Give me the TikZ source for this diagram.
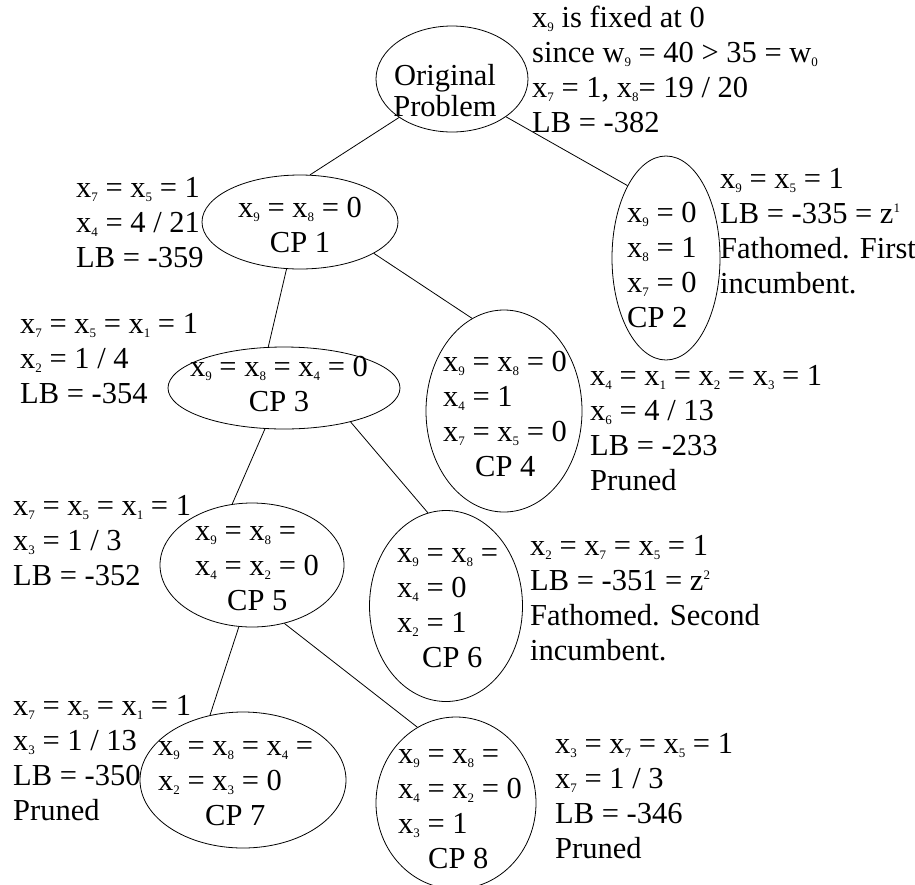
\documentclass[tikz,border=0pt]{standalone}
\usepackage{fontspec}
\setmainfont{Liberation Serif}
\usetikzlibrary{shapes.geometric}
\newcommand\lowidx[1]{\raisebox{-4pt}{\fontsize{13}{13}\selectfont #1}}
\newcommand\hiidx[1]{\raisebox{11pt}{\fontsize{13}{13}\selectfont #1}}
\tikzset{
  cp/.style   = {ellipse, draw, line width=0.8pt, inner sep=0pt},
  note/.style = {anchor=north west, align=left, inner sep=0pt, yshift=24.5pt},
  mid/.style  = {anchor=north, align=center, inner sep=0pt, yshift=24.5pt},
  link/.style = {line width=0.8pt},
}
\begin{document}
\begin{tikzpicture}[x=1pt, y=-1pt, font=\fontsize{30.5}{35}\selectfont]
  \useasboundingbox (0,0) rectangle (915,884);
  % subproblems
  \node[cp, minimum width=152pt, minimum height=106pt] (orig) at (452,79)  {};
  \node[cp, minimum width=196pt, minimum height=94pt]  (cp1)  at (300,222) {};
  \node[cp, minimum width=108pt, minimum height=204pt] (cp2)  at (666,258) {};
  \node[cp, minimum width=232pt, minimum height=82pt]  (cp3)  at (284,388) {};
  \node[cp, minimum width=156pt, minimum height=202pt] (cp4)  at (504,411) {};
  \node[cp, minimum width=184pt, minimum height=124pt] (cp5)  at (252,565) {};
  \node[cp, minimum width=153pt, minimum height=191pt] (cp6)  at (446,606) {};
  \node[cp, minimum width=206pt, minimum height=136pt] (cp7)  at (243,780) {};
  \node[cp, minimum width=160pt, minimum height=172pt] (cp8)  at (456,803) {};
  % branches
  \draw[link] (orig.216) -- (cp1.78);
  \draw[link] (orig.325) -- (cp2.118);
  \draw[link] (cp1.254) -- (cp3.111);
  \draw[link] (cp1.337) -- (cp4.109);
  \draw[link] (cp3.245) -- (cp5.108);
  \draw[link] (cp3.333) -- (cp6.101);
  \draw[link] (cp5.258) -- (cp7.117);
  \draw[link] (cp5.299) -- (cp8.117);
  % text inside the subproblems
  \node[anchor=north, align=center, inner sep=0pt, yshift=21pt,
        font=\fontsize{30.5}{30}\selectfont] (origtxt) at (445,85)
    {\strut Original\\Problem};
  \node[mid] (cp1txt) at (300,217) {\strut x\lowidx{9} = x\lowidx{8} = 0\\CP 1};
  \node[note] (cp2txt) at (627,222)
    {\strut x\lowidx{9} = 0\\x\lowidx{8} = 1\\x\lowidx{7} = 0\\CP 2};
  \node[mid] (cp3txt) at (279,376) {\strut x\lowidx{9} = x\lowidx{8} = x\lowidx{4} = 0\\CP 3};
  \node[note] (cp4txt) at (443,371)
    {\strut x\lowidx{9} = x\lowidx{8} = 0\\x\lowidx{4} = 1\\x\lowidx{7} = x\lowidx{5} = 0\\\hspace*{32pt}CP 4};
  \node[note] (cp5txt) at (195,540)
    {\strut x\lowidx{9} = x\lowidx{8} =\\x\lowidx{4} = x\lowidx{2} = 0\\\hspace*{32pt}CP 5};
  \node[note] (cp6txt) at (397,562)
    {\strut x\lowidx{9} = x\lowidx{8} =\\x\lowidx{4} = 0\\x\lowidx{2} = 1\\\hspace*{25pt}CP 6};
  \node[note] (cp7txt) at (158,755)
    {\strut x\lowidx{9} = x\lowidx{8} = x\lowidx{4} =\\x\lowidx{2} = x\lowidx{3} = 0\\\hspace*{47pt}CP 7};
  \node[note] (cp8txt) at (398,763)
    {\strut x\lowidx{9} = x\lowidx{8} =\\x\lowidx{4} = x\lowidx{2} = 0\\x\lowidx{3} = 1\\\hspace*{30pt}CP 8};
  % bounds and remarks
  \node[note] (n0) at (532,27)
    {\strut x\lowidx{9} is fixed at 0\\since w\lowidx{9} = 40 > 35 = w\lowidx{0}\\x\lowidx{7} = 1, x\lowidx{8}= 19 / 20\\LB = -382};
  \node[note] (n1) at (76,197)
    {\strut x\lowidx{7} = x\lowidx{5} = 1\\x\lowidx{4} = 4 / 21\\LB = -359};
  \node[note] (n2) at (720,188)
    {\strut x\lowidx{9} = x\lowidx{5} = 1\\LB = -335 = z\hiidx{1}\\Fathomed. First\\incumbent.};
  \node[note] (n3) at (20,333)
    {\strut x\lowidx{7} = x\lowidx{5} = x\lowidx{1} = 1\\x\lowidx{2} = 1 / 4\\LB = -354};
  \node[note] (n4) at (590,385)
    {\strut x\lowidx{4} = x\lowidx{1} = x\lowidx{2} = x\lowidx{3} = 1\\x\lowidx{6} = 4 / 13\\LB = -233\\Pruned};
  \node[note] (n5) at (13,515)
    {\strut x\lowidx{7} = x\lowidx{5} = x\lowidx{1} = 1\\x\lowidx{3} = 1 / 3\\LB = -352};
  \node[note] (n6) at (530,555)
    {\strut x\lowidx{2} = x\lowidx{7} = x\lowidx{5} = 1\\LB = -351 = z\hiidx{2}\\Fathomed. Second\\incumbent.};
  \node[note] (n7) at (13,715)
    {\strut x\lowidx{7} = x\lowidx{5} = x\lowidx{1} = 1\\x\lowidx{3} = 1 / 13\\LB = -350\\Pruned};
  \node[note] (n8) at (555,753)
    {\strut x\lowidx{3} = x\lowidx{7} = x\lowidx{5} = 1\\x\lowidx{7} = 1 / 3\\LB = -346\\Pruned};
\end{tikzpicture}
\end{document}
